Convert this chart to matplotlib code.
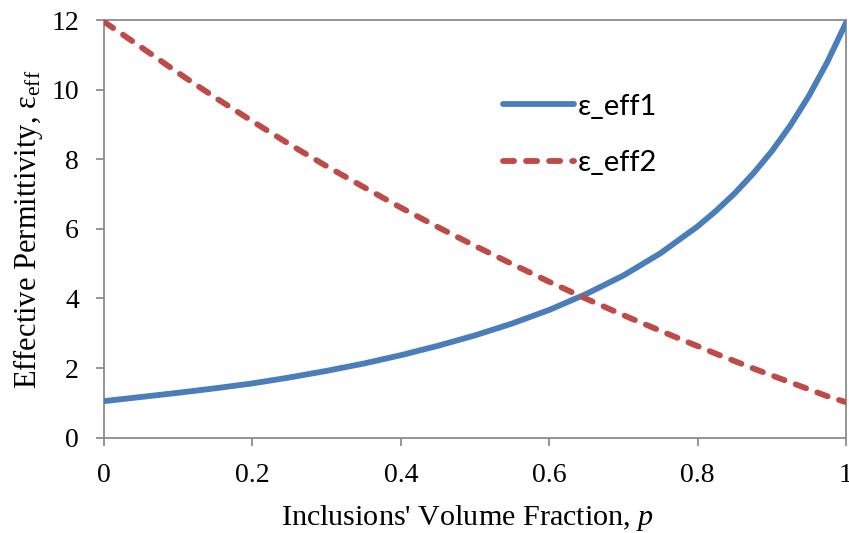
import matplotlib
matplotlib.use("Agg")
import matplotlib.pyplot as plt

plt.rcParams["mathtext.fontset"] = "custom"
plt.rcParams["mathtext.rm"] = "Liberation Serif"
plt.rcParams["mathtext.it"] = "Liberation Serif:italic"

# Inclusions' volume fraction
p = [0.0, 0.05, 0.10, 0.15, 0.20, 0.25, 0.30, 0.35, 0.40, 0.45, 0.50,
     0.55, 0.60, 0.65, 0.70, 0.75, 0.80, 0.825, 0.85, 0.875, 0.90,
     0.925, 0.95, 0.975, 1.0]

# Effective permittivity, two mixing estimates
eps_eff1 = [1.05, 1.17, 1.29, 1.42, 1.56, 1.73, 1.92, 2.13, 2.37, 2.64, 2.94,
            3.28, 3.67, 4.13, 4.66, 5.30, 6.07, 6.52, 7.02, 7.59, 8.23,
            8.97, 9.82, 10.80, 11.92]
eps_eff2 = [11.95, 11.22, 10.48, 9.77, 9.09, 8.43, 7.80, 7.20, 6.61, 6.05, 5.51,
            4.99, 4.48, 3.99, 3.52, 3.07, 2.63, 2.41, 2.20, 1.99, 1.79,
            1.59, 1.39, 1.19, 1.02]

series_labels = ["ε_eff1", "ε_eff2"]
x_ticks = [0, 0.2, 0.4, 0.6, 0.8, 1]
x_ticklabels = ["0", "0.2", "0.4", "0.6", "0.8", "1"]
y_ticks = [0, 2, 4, 6, 8, 10, 12]

W, H = 849, 533
fig = plt.figure(figsize=(W / 100, H / 100), dpi=100)
ax = fig.add_axes([104 / W, 1 - 437.7 / H, 742 / W, 417.7 / H])

blue = "#4A7EBB"
red = "#BE4B48"
grey = "#8C8C8C"
lw = 4.2

ax.plot(p, eps_eff1, color=blue, lw=lw, solid_capstyle="round",
        solid_joinstyle="round", label=series_labels[0], zorder=3)
ax.plot(p, eps_eff2, color=red, lw=lw, dashes=(1.9, 2.05),
        dash_capstyle="round", label=series_labels[1], zorder=3)

ax.set_xlim(0, 1)
ax.set_ylim(0, 12)
ax.set_xticks(x_ticks)
ax.set_xticklabels(x_ticklabels)
ax.set_yticks(y_ticks)

for s in ax.spines.values():
    s.set_color(grey)
    s.set_linewidth(1.3)

ax.tick_params(axis="both", direction="out", length=6, width=1.3, color=grey,
               pad=12, labelsize=20, labelfontfamily="Liberation Serif")

# Axis titles
fig.text(467 / W, 1 - 525 / H, "Inclusions' Volume Fraction, $\\mathit{p}$",
         ha="center", va="baseline", fontsize=21.7, family="Liberation Serif")
fig.text(28 / W, 1 - 229 / H, "Effective Permittivity, ε$_{\\mathrm{eff}}$",
         ha="center", va="center", rotation=90, fontsize=22,
         family="Liberation Serif")

leg = ax.legend(loc="center left", bbox_to_anchor=(0.5377, 0.7247),
                frameon=False, prop={"family": "Lato", "size": 21},
                handlelength=2.45, handletextpad=0.1, labelspacing=1.05,
                borderaxespad=0, borderpad=0)

fig.savefig("out.png", dpi=100)
